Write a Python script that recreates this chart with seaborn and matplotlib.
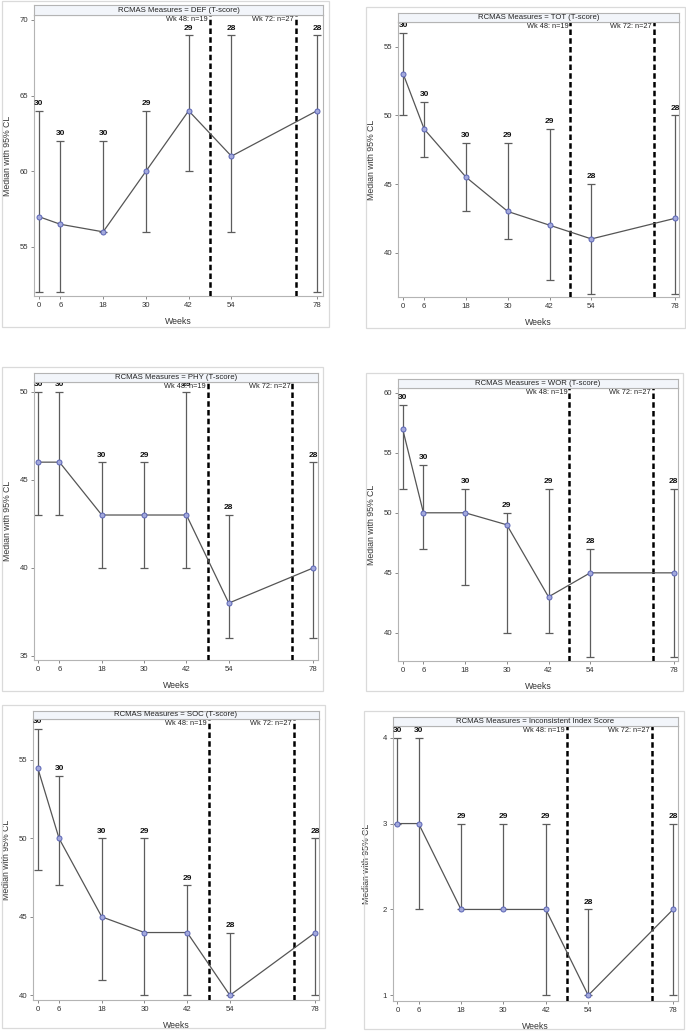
import pandas as pd
import seaborn as sns
import matplotlib
matplotlib.use("Agg")
from matplotlib import pyplot as plt
from matplotlib.patches import Rectangle

# ---- data ----
weeks = [0, 6, 18, 30, 42, 54, 78]

def_median = [57, 56.5, 56, 60, 64, 61, 64]
def_lower = [52, 52, 56, 56, 60, 56, 52]
def_upper = [64, 62, 62, 64, 69, 69, 69]
def_n = [30, 30, 30, 29, 29, 28, 28]

tot_median = [53, 49, 45.5, 43, 42, 41, 42.5]
tot_lower = [50, 47, 43, 41, 38, 37, 37]
tot_upper = [56, 51, 48, 48, 49, 45, 50]
tot_n = [30, 30, 30, 29, 29, 28, 28]

phy_median = [46, 46, 43, 43, 43, 38, 40]
phy_lower = [43, 43, 40, 40, 40, 36, 36]
phy_upper = [50, 50, 46, 46, 50, 43, 46]
phy_n = [30, 30, 30, 29, 29, 28, 28]

wor_median = [57, 50, 50, 49, 43, 45, 45]
wor_lower = [52, 47, 44, 40, 40, 38, 38]
wor_upper = [59, 54, 52, 50, 52, 47, 52]
wor_n = [30, 30, 30, 29, 29, 28, 28]

soc_median = [54.5, 50, 45, 44, 44, 40, 44]
soc_lower = [48, 47, 41, 40, 40, 40, 40]
soc_upper = [57, 54, 50, 50, 47, 44, 50]
soc_n = [30, 30, 30, 29, 29, 28, 28]

inc_median = [3, 3, 2, 2, 2, 1, 2]
inc_lower = [3, 2, 2, 2, 1, 1, 1]
inc_upper = [4, 4, 3, 3, 3, 2, 3]
inc_n = [30, 30, 29, 29, 29, 28, 28]

cutoff_weeks = [48, 72]
cutoff_labels = ["Wk 48: n=19", "Wk 72: n=27"]

titles = ["RCMAS Measures = DEF (T-score)", "RCMAS Measures = TOT (T-score)",
          "RCMAS Measures = PHY (T-score)", "RCMAS Measures = WOR (T-score)",
          "RCMAS Measures = SOC (T-score)", "RCMAS Measures = Inconsistent Index Score"]
series = [(def_median, def_lower, def_upper, def_n),
          (tot_median, tot_lower, tot_upper, tot_n),
          (phy_median, phy_lower, phy_upper, phy_n),
          (wor_median, wor_lower, wor_upper, wor_n),
          (soc_median, soc_lower, soc_upper, soc_n),
          (inc_median, inc_lower, inc_upper, inc_n)]
yticks = [[55, 60, 65, 70], [40, 45, 50, 55], [35, 40, 45, 50],
          [40, 45, 50, 55, 60], [40, 45, 50, 55], [1, 2, 3, 4]]

# ---- layout in pixels (x0, y0, x1, y1), top-left origin ----
W, H = 686, 1031
borders = [(2, 1, 329, 327), (366, 7, 685, 328), (2, 367, 323, 691),
           (366, 373, 683, 691), (2, 705, 325, 1028), (364, 711, 684, 1029)]
plots = [(34, 15, 323, 296), (398, 22, 679, 297), (34, 382, 318, 660),
         (398, 388, 678, 661), (33, 719, 319, 1000), (393, 726, 678, 1001)]
strip_tops = [5, 13, 373, 379, 711, 717]
xlims = [(-1.4, 79.7), (-1.52, 79.15), (-1.22, 79.3),
         (-1.32, 79.27), (-1.32, 79.04), (-1.25, 79.4)]
ylims = [(51.76, 70.33), (36.77, 56.8), (34.77, 50.55),
         (37.66, 60.39), (39.7, 57.61), (0.934, 4.136)]

sns.set_style("white")
plt.rcParams['font.family'] = ['Liberation Sans', 'DejaVu Sans']

FRAME = '#b4b4b4'
BAR = '#5c5c5c'


def px_rect(x0, y0, x1, y1):
    return [x0 / W, 1 - y1 / H, (x1 - x0) / W, (y1 - y0) / H]


fig = plt.figure(figsize=(6.86, 10.31), dpi=100)

for i in range(6):
    med, lo, hi, n = series[i]
    df = pd.DataFrame({"Weeks": weeks, "Median": med, "Lower": lo, "Upper": hi, "N": n})

    # outer image border
    bx0, by0, bx1, by1 = borders[i]
    r = px_rect(bx0, by0, bx1, by1)
    fig.add_artist(Rectangle((r[0], r[1]), r[2], r[3], transform=fig.transFigure,
                             fill=False, ec='#dadada', lw=0.9))

    px0, py0, px1, py1 = plots[i]
    ax = fig.add_axes(px_rect(px0, py0, px1, py1))

    # title strip
    sax = fig.add_axes(px_rect(px0, strip_tops[i], px1, py0))
    sax.set_facecolor('#f2f5fa')
    sax.set_xticks([])
    sax.set_yticks([])
    for s in sax.spines.values():
        s.set_color(FRAME)
        s.set_linewidth(0.8)
    sax.text(0.5, 0.5, titles[i], ha='center', va='center', fontsize=5.6, color='#222222')

    # CI bars
    ax.errorbar(df["Weeks"], df["Median"],
                yerr=[df["Median"] - df["Lower"], df["Upper"] - df["Median"]],
                fmt='none', ecolor=BAR, elinewidth=0.9, capsize=2.6, capthick=0.9, zorder=2)

    # reference lines
    for wk, lab in zip(cutoff_weeks, cutoff_labels):
        ax.axvline(wk, color='black', lw=1.8, linestyle=(0, (2.2, 1.3)), zorder=3)
        ax.annotate(lab, xy=(wk, 1), xycoords=('data', 'axes fraction'),
                    xytext=(-1.5, -1), textcoords='offset points',
                    ha='right', va='top', fontsize=5.3, color='#222222')

    # median line
    sns.lineplot(data=df, x="Weeks", y="Median", ax=ax, color='#555555', lw=0.9,
                 marker='o', markersize=3.6, markerfacecolor='#a3a9dc',
                 markeredgecolor='#5a64b4', markeredgewidth=0.7, zorder=4)

    # N labels
    for wk, up, cnt in zip(df["Weeks"], df["Upper"], df["N"]):
        ax.annotate(str(cnt), xy=(wk, up), xytext=(0, 2.6), textcoords='offset points',
                    ha='center', va='bottom', fontsize=6, fontweight='bold',
                    family=['Liberation Sans Narrow', 'Liberation Sans', 'DejaVu Sans'],
                    color='#111111', annotation_clip=False)

    ax.set_xlim(*xlims[i])
    ax.set_ylim(*ylims[i])
    ax.set_xticks(weeks)
    ax.set_yticks(yticks[i])
    ax.tick_params(axis='both', direction='out', length=2.2, width=0.6, color='#777777',
                   labelsize=5.6, labelcolor='#333333', pad=2)
    ax.tick_params(left=True, bottom=True)
    for s in ax.spines.values():
        s.set_color(FRAME)
        s.set_linewidth(0.8)

    ax.set_xlabel("Weeks", fontsize=6.3, color='#333333')
    ax.set_ylabel("Median with 95% CL", fontsize=6.3, color='#333333')
    ax.xaxis.set_label_coords(0.5, -21 / (py1 - py0))
    ax.yaxis.set_label_coords(-22 / (px1 - px0), 0.5)

fig.savefig("out.png", dpi=100)
